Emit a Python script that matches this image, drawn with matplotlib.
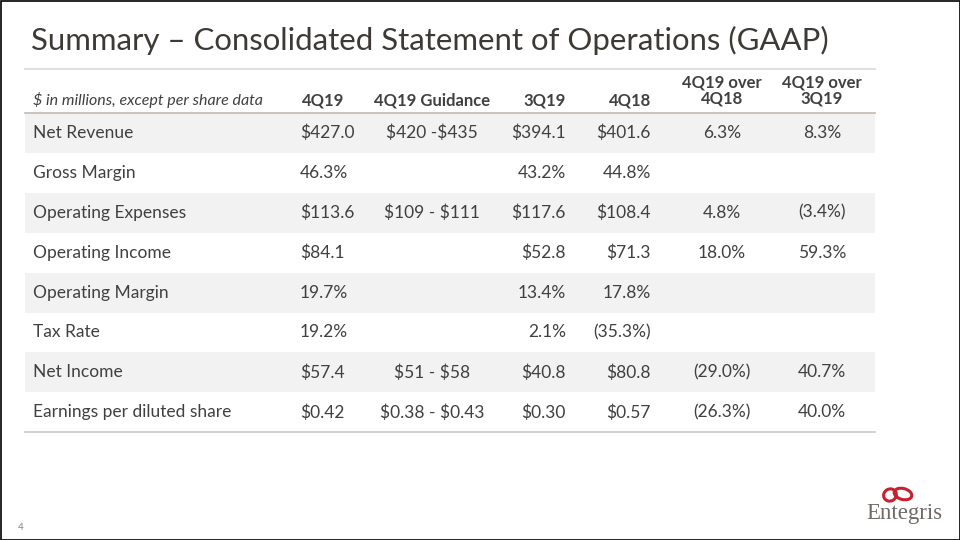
import matplotlib
matplotlib.use("Agg")
import matplotlib.pyplot as plt
from matplotlib.patches import Rectangle, Ellipse

plt.rcParams["text.parse_math"] = False

# ---- data ----
title = "Summary \u2013 Consolidated Statement of Operations (GAAP)"
unit_note = "$ in millions, except per share data"
columns = ["4Q19", "4Q19 Guidance", "3Q19", "4Q18", "4Q19 over\n4Q18", "4Q19 over\n3Q19"]
row_labels = ["Net Revenue", "Gross Margin", "Operating Expenses", "Operating Income",
              "Operating Margin", "Tax Rate", "Net Income", "Earnings per diluted share"]
col_4q19 = ["$427.0", "46.3%", "$113.6", "$84.1", "19.7%", "19.2%", "$57.4", "$0.42"]
col_guid = ["$420 -$435", "", "$109 - $111", "", "", "", "$51 - $58", "$0.38 - $0.43"]
col_3q19 = ["$394.1", "43.2%", "$117.6", "$52.8", "13.4%", "2.1%", "$40.8", "$0.30"]
col_4q18 = ["$401.6", "44.8%", "$108.4", "$71.3", "17.8%", "(35.3%)", "$80.8", "$0.57"]
col_yoy = ["6.3%", "", "4.8%", "18.0%", "", "", "(29.0%)", "(26.3%)"]
col_qoq = ["8.3%", "", "(3.4%)", "59.3%", "", "", "40.7%", "40.0%"]
page_number = "4"
logo_text = "Entegris"

FONT = ["Lato", "DejaVu Sans"]
TXT = "#404040"

fig = plt.figure(figsize=(9.6, 5.4), dpi=100)
ax = fig.add_axes([0, 0, 1, 1])
ax.set_xlim(0, 960)
ax.set_ylim(540, 0)
ax.axis("off")

# frame
ax.add_patch(Rectangle((0.5, 0.5), 959, 539, fill=False, edgecolor="black", lw=1.2))

ax.text(31, 40, title, fontsize=22.4, color="#3d3935", family=FONT, va="center", ha="left")
ax.plot([25, 875], [69, 69], color="#d9d9d9", lw=1.2)

# table geometry
left, right = 25, 875
header_y = 100
top = 113
row_h = 39.9

# header
ax.text(33, header_y, unit_note, fontsize=11.5, style="italic", color=TXT, family=FONT,
        va="center", ha="left")
hdr_specs = [(323, "center"), (432, "center"), (566, "right"), (651, "right"),
             (722, "center"), (822, "center")]
for (x, ha), c in zip(hdr_specs, columns):
    yy = header_y if "\n" not in c else header_y - 9
    ax.text(x, yy, c, fontsize=12, weight="bold", color=TXT, family=FONT,
            va="center", ha=ha, linespacing=1.0)
ax.plot([left, right], [top - 0.5, top - 0.5], color="#c8bfb8", lw=1.3)

data_cols = [col_4q19, col_guid, col_3q19, col_4q18, col_yoy, col_qoq]
val_specs = [(300, "left"), (432, "center"), (566, "right"), (651, "right"),
             (722, "center"), (822, "center")]

for i, lab in enumerate(row_labels):
    y0 = top + i * row_h
    if i % 2 == 0:
        ax.add_patch(Rectangle((left, y0), right - left, row_h, color="#f2f2f2", lw=0))
    yc = y0 + row_h / 2
    ax.text(33, yc, lab, fontsize=12.5, color=TXT, family=FONT, va="center", ha="left")
    for (x, ha), col in zip(val_specs, data_cols):
        if col[i]:
            ax.text(x, yc, col[i], fontsize=12.5, color=TXT, family=FONT, va="center", ha=ha)

ax.plot([left, right], [top + len(row_labels) * row_h, top + len(row_labels) * row_h],
        color="#c8c8c8", lw=1.2)

# page number
ax.text(21, 527, page_number, fontsize=7, color="#808080", family=FONT, va="center", ha="center")

# logo
ax.add_patch(Ellipse((890, 495), 13, 12, angle=-30, fill=False, edgecolor="#c8202f", lw=2.2))
ax.add_patch(Ellipse((903, 494), 18, 11, angle=15, fill=False, edgecolor="#c8202f", lw=2.2))
ax.text(904, 514, logo_text, fontsize=16.5, family=["Liberation Serif", "DejaVu Serif"],
        color="#6f6a66", va="center", ha="center")

fig.savefig("out.png", dpi=100)
